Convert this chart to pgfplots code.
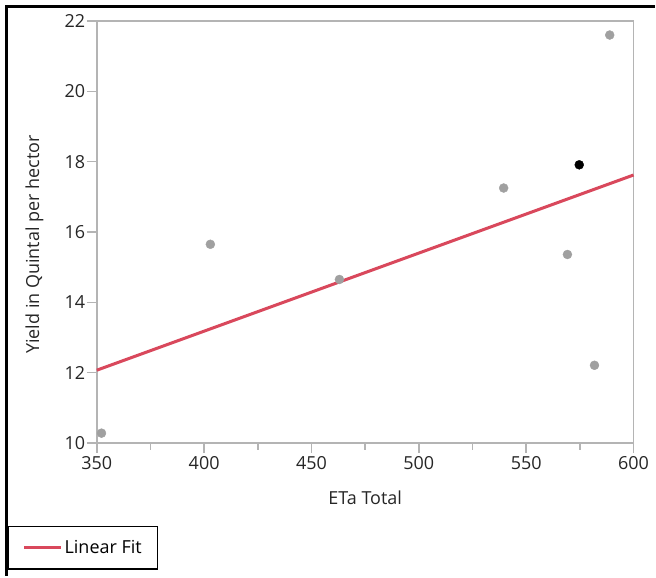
\documentclass[border=0pt]{standalone}
\usepackage{fontspec}
\setmainfont{Open Sans}
\usepackage{pgfplots}
\pgfplotsset{compat=1.18}
\definecolor{axgray}{RGB}{180,180,180}
\definecolor{ptgray}{RGB}{160,160,160}
\definecolor{fitred}{RGB}{217,72,92}
\begin{document}
\begin{tikzpicture}[x=1pt,y=1pt]
\path (0,0) rectangle (656,-577);
\draw[line width=3pt] (6.5,-577) -- (6.5,-7) -- (656,-7);
\begin{axis}[
  at={(97pt,-444pt)}, anchor=south west,
  scale only axis, width=538pt, height=423pt,
  xmin=350, xmax=600, ymin=10, ymax=22,
  xtick={350,400,...,600}, ytick={10,12,...,22},
  minor x tick num=1,
  xtick pos=bottom, ytick pos=left,
  tick align=outside,
  major tick length=10pt, minor tick length=7pt,
  every tick/.style={axgray, line width=1.5pt},
  axis line style={axgray, line width=1.5pt},
  /pgf/number format/assume math mode=true,
  tick label style={font=\fontsize{18}{22}\selectfont, text=black!85},
  yticklabel style={inner sep=1.5pt},
  xticklabel style={inner sep=3pt},
  xlabel={ETa Total},
  ylabel={Yield in Quintal per hector},
  label style={font=\fontsize{18}{22}\selectfont, text=black!85},
  xlabel style={at={(axis description cs:0.5,-0.130)}, anchor=center},
  ylabel style={at={(axis description cs:-0.116,0.47)}, anchor=center},
  legend style={at={(axis description cs:-0.1654,-0.3002)}, anchor=south west,
    draw=black, line width=1.5pt, font=\fontsize{18}{22}\selectfont,
    inner xsep=14pt, inner ysep=12pt},
  legend image code/.code={\draw[#1, line width=3pt] (0pt,0pt) -- (37pt,0pt);},
  clip=false,
]
\addplot[only marks, mark=*, mark size=4.5pt, color=ptgray, forget plot] coordinates {
  (352.2,10.28) (402.9,15.65) (463.0,14.65) (539.5,17.25)
  (569.2,15.36) (581.8,12.21) (588.9,21.60)
};
\addplot[only marks, mark=*, mark size=4.5pt, color=black, forget plot] coordinates {
  (574.7,17.91)
};
\addplot[fitred, line width=3pt] coordinates {(350,12.07) (600,17.62)};
\addlegendentry{Linear Fit}
\end{axis}
\end{tikzpicture}
\end{document}
